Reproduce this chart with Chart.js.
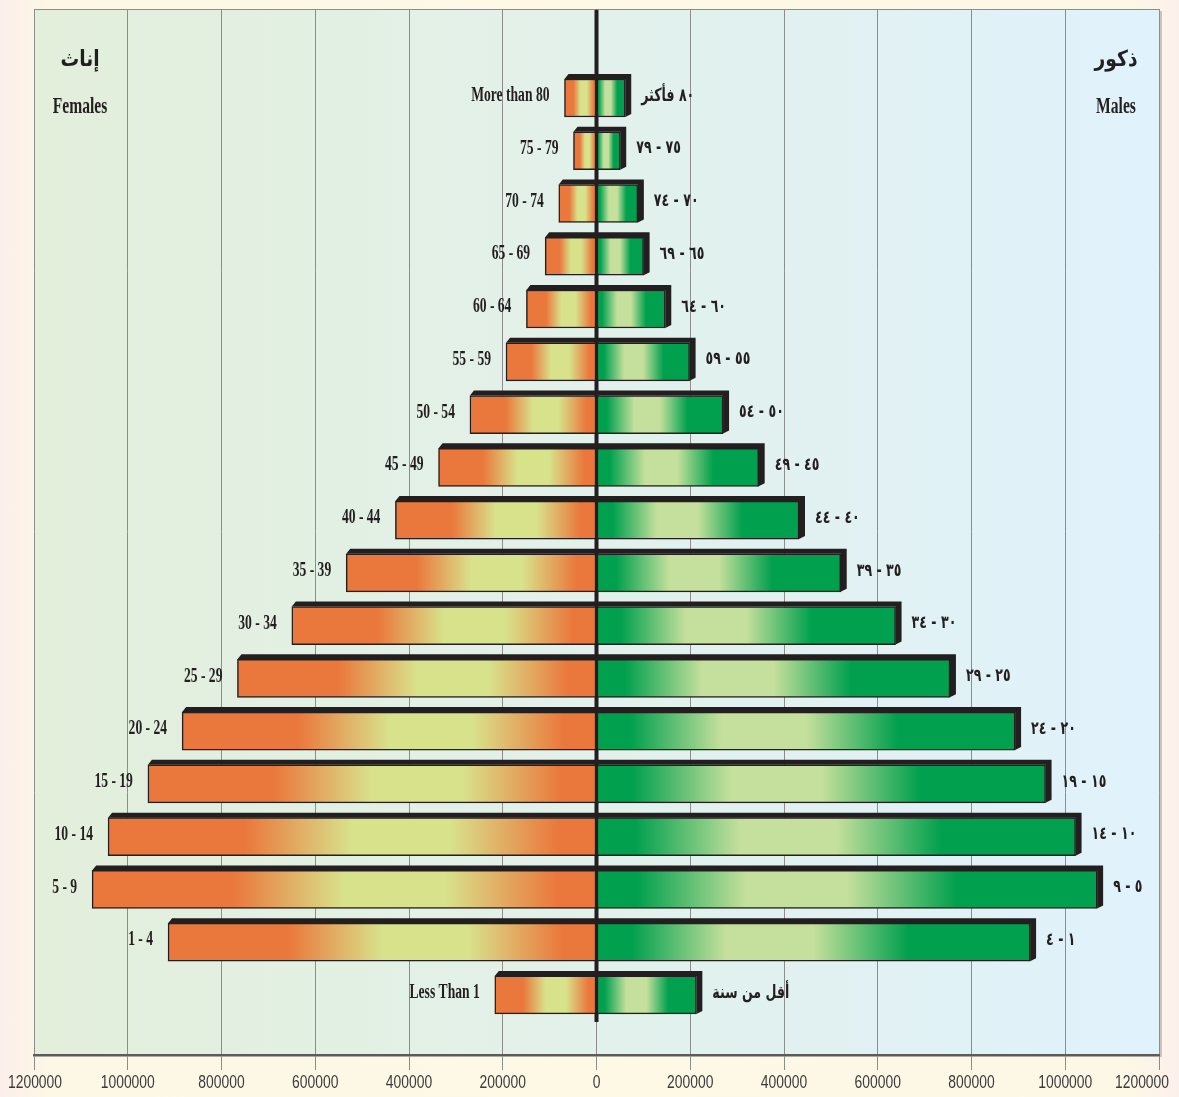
<!DOCTYPE html>
<html>
<head>
<meta charset="utf-8">
<script src="https://cdn.jsdelivr.net/npm/chart.js@4.4.1/dist/chart.umd.min.js"></script>
<style>
  html, body { margin: 0; padding: 0; }
  body {
    width: 1179px; height: 1097px; overflow: hidden;
    background: linear-gradient(90deg, #fcefeb 0%, #fdf7e6 4%, #fef9e5 50%, #fdf7e6 96%, #fcf0ec 100%);
  }
  #wrap { position: relative; width: 1179px; height: 1097px; }
</style>
</head>
<body>
<div id="wrap"><canvas id="pyramid"></canvas></div>
<script>
// Age groups, top (oldest) to bottom (youngest)
const ageGroupsEn = ['More than 80', '75 - 79', '70 - 74', '65 - 69', '60 - 64', '55 - 59', '50 - 54', '45 - 49',
  '40 - 44', '35 - 39', '30 - 34', '25 - 29', '20 - 24', '15 - 19', '10 - 14', '5 - 9', '1 - 4', 'Less Than 1'];
const ageGroupsAr = ['٨٠ فأكثر', '٧٥ - ٧٩', '٧٠ - ٧٤', '٦٥ - ٦٩', '٦٠ - ٦٤', '٥٥ - ٥٩', '٥٠ - ٥٤', '٤٥ - ٤٩',
  '٤٠ - ٤٤', '٣٥ - ٣٩', '٣٠ - ٣٤', '٢٥ - ٢٩', '٢٠ - ٢٤', '١٥ - ١٩', '١٠ - ١٤', '٥ - ٩', '١ - ٤', 'أقل من سنة'];

// Population by age group
const females = [68300, 49100, 80500, 109500, 149500, 193000, 270000, 337000,
  429000, 534000, 650000, 766000, 884000, 957000, 1042000, 1076000, 914000, 217000];
const males = [61300, 50600, 88200, 100500, 146700, 198600, 270000, 346000,
  432000, 521000, 638000, 754000, 893000, 958000, 1022000, 1068000, 925000, 213000];

const axisMax = 1200000;
const axisStep = 200000;

const INK = '#231f20';

// horizontal gradient: dark at both ends, light band a bit nearer the axis
function barFill(dark, light) {
  return (c) => {
    const xs = c.chart.scales.x;
    if (!xs || !c.parsed) return dark;
    const base = xs.getPixelForValue(0);
    const end = xs.getPixelForValue(c.parsed.x);
    if (!Number.isFinite(base) || !Number.isFinite(end) || Math.abs(end - base) < 1) return dark;
    const g = c.chart.ctx.createLinearGradient(base, 0, end, 0);
    g.addColorStop(0, dark);
    g.addColorStop(0.08, dark);
    g.addColorStop(0.3, light);
    g.addColorStop(0.5, light);
    g.addColorStop(0.72, dark);
    g.addColorStop(1, dark);
    return g;
  };
}

function condensedText(ctx, text, x, y, align, sx) {
  ctx.save();
  ctx.translate(x, y);
  ctx.scale(sx, 1);
  ctx.textAlign = align;
  ctx.fillText(text, 0, 0);
  ctx.restore();
}

const pyramidDecor = {
  id: 'pyramidDecor',
  beforeDraw(chart) {
    const { ctx, chartArea: a } = chart;
    if (!a || !Number.isFinite(a.left)) return;
    ctx.save();
    const g = ctx.createLinearGradient(a.left, 0, a.right, 0);
    g.addColorStop(0, '#e3efdb');
    g.addColorStop(0.5, '#e2f1eb');
    g.addColorStop(1, '#e0f2fc');
    ctx.fillStyle = g;
    ctx.fillRect(a.left, a.top, a.right - a.left, a.bottom - a.top);
    // soft shadow on the right side of the frame
    ctx.fillStyle = 'rgba(110,110,110,0.35)';
    ctx.fillRect(a.right, a.top + 2, 3, a.bottom - a.top);
    ctx.restore();
  },
  beforeDatasetsDraw(chart) {
    const { ctx, chartArea: a } = chart;
    const x0 = chart.scales.x.getPixelForValue(0);
    ctx.save();
    // thick centre spine
    ctx.fillStyle = INK;
    ctx.fillRect(x0 - 2, a.top, 4, 1022 - a.top);
    // depth of each bar (top band, plus right side for males)
    chart.data.datasets.forEach((ds, di) => {
      chart.getDatasetMeta(di).data.forEach(bar => {
        const top = bar.y - bar.height / 2;
        const bottom = bar.y + bar.height / 2;
        ctx.beginPath();
        if (bar.x > bar.base) {
          ctx.moveTo(bar.base, top);
          ctx.lineTo(bar.base, top - 5);
          ctx.lineTo(bar.x + 6, top - 5);
          ctx.lineTo(bar.x + 6, bottom - 3);
          ctx.lineTo(bar.x, bottom);
          ctx.lineTo(bar.x, top);
        } else {
          ctx.moveTo(bar.x, top);
          ctx.lineTo(bar.x + 4, top - 5);
          ctx.lineTo(bar.base, top - 5);
          ctx.lineTo(bar.base, top);
        }
        ctx.closePath();
        ctx.fill();
      });
    });
    ctx.restore();
  },
  afterDatasetsDraw(chart) {
    const ctx = chart.ctx;
    ctx.save();
    ctx.fillStyle = INK;
    ctx.textBaseline = 'middle';
    // English labels left of the female bars
    ctx.font = 'bold 20px "Liberation Serif", "DejaVu Serif", serif';
    chart.getDatasetMeta(0).data.forEach((bar, i) => {
      condensedText(ctx, ageGroupsEn[i], bar.x - 15, bar.y - 2, 'right', 0.68);
    });
    // Arabic labels right of the male bars
    ctx.font = 'bold 18px "DejaVu Sans", "Noto Sans", sans-serif';
    ctx.direction = 'rtl';
    chart.getDatasetMeta(1).data.forEach((bar, i) => {
      condensedText(ctx, ageGroupsAr[i], bar.x + 16, bar.y - 2, 'left', 0.7);
    });
    ctx.restore();
  },
  afterDraw(chart) {
    const { ctx, chartArea: a } = chart;
    const xs = chart.scales.x;
    ctx.save();
    // frame top
    ctx.strokeStyle = '#8d8d8d';
    ctx.lineWidth = 1;
    ctx.beginPath();
    ctx.moveTo(a.left, a.top + 0.5);
    ctx.lineTo(a.right, a.top + 0.5);
    ctx.stroke();
    // tick labels
    ctx.fillStyle = '#3a3a3a';
    ctx.textBaseline = 'middle';
    ctx.font = '19px "Liberation Sans", Arial, sans-serif';
    xs.ticks.forEach(t => {
      const label = String(Math.abs(t.value));
      const w = ctx.measureText(label).width * 0.73;
      let px = xs.getPixelForValue(t.value);
      px = Math.min(px, chart.width - 10 - w / 2);
      px = Math.max(px, 8 + w / 2);
      condensedText(ctx, label, px, 1083, 'center', 0.73);
    });
    // side titles
    ctx.fillStyle = INK;
    ctx.font = 'bold 22px "DejaVu Sans", sans-serif';
    ctx.direction = 'rtl';
    condensedText(ctx, 'إناث', 80, 60, 'center', 0.85);
    condensedText(ctx, 'ذكور', 1116, 60, 'center', 0.85);
    ctx.direction = 'ltr';
    ctx.font = 'bold 24px "Liberation Serif", "DejaVu Serif", serif';
    condensedText(ctx, 'Females', 80, 107, 'center', 0.65);
    condensedText(ctx, 'Males', 1116, 107, 'center', 0.65);
    ctx.restore();
  }
};

new Chart(document.getElementById('pyramid'), {
  type: 'bar',
  data: {
    datasets: [
      {
        label: 'Females',
        data: females.map((v, i) => ({ x: -v, y: i })),
        backgroundColor: barFill('#ea783c', '#d8e28b')
      },
      {
        label: 'Males',
        data: males.map((v, i) => ({ x: v, y: i })),
        backgroundColor: barFill('#00a04e', '#c5e09c')
      }
    ]
  },
  options: {
    indexAxis: 'y',
    responsive: true,
    maintainAspectRatio: false,
    animation: false,
    events: [],
    datasets: {
      bar: {
        grouped: false,
        barThickness: 38,
        borderColor: INK,
        borderWidth: 1.5,
        borderSkipped: false
      }
    },
    layout: { padding: { top: 9, left: 34, right: 20, bottom: 27 } },
    plugins: { legend: { display: false }, tooltip: { enabled: false } },
    scales: {
      x: {
        type: 'linear',
        min: -axisMax,
        max: axisMax,
        ticks: { stepSize: axisStep, display: false },
        grid: { color: '#8d8d8d', lineWidth: 1, tickLength: 15, drawTicks: true },
        border: { display: true, color: '#5b5b5b', width: 2.5 }
      },
      y: {
        type: 'linear',
        reverse: true,
        offset: false,
        min: -1.687,
        max: 18.139,
        grid: { offset: false },
        display: false
      }
    }
  },
  plugins: [pyramidDecor]
});
</script>
</body>
</html>
